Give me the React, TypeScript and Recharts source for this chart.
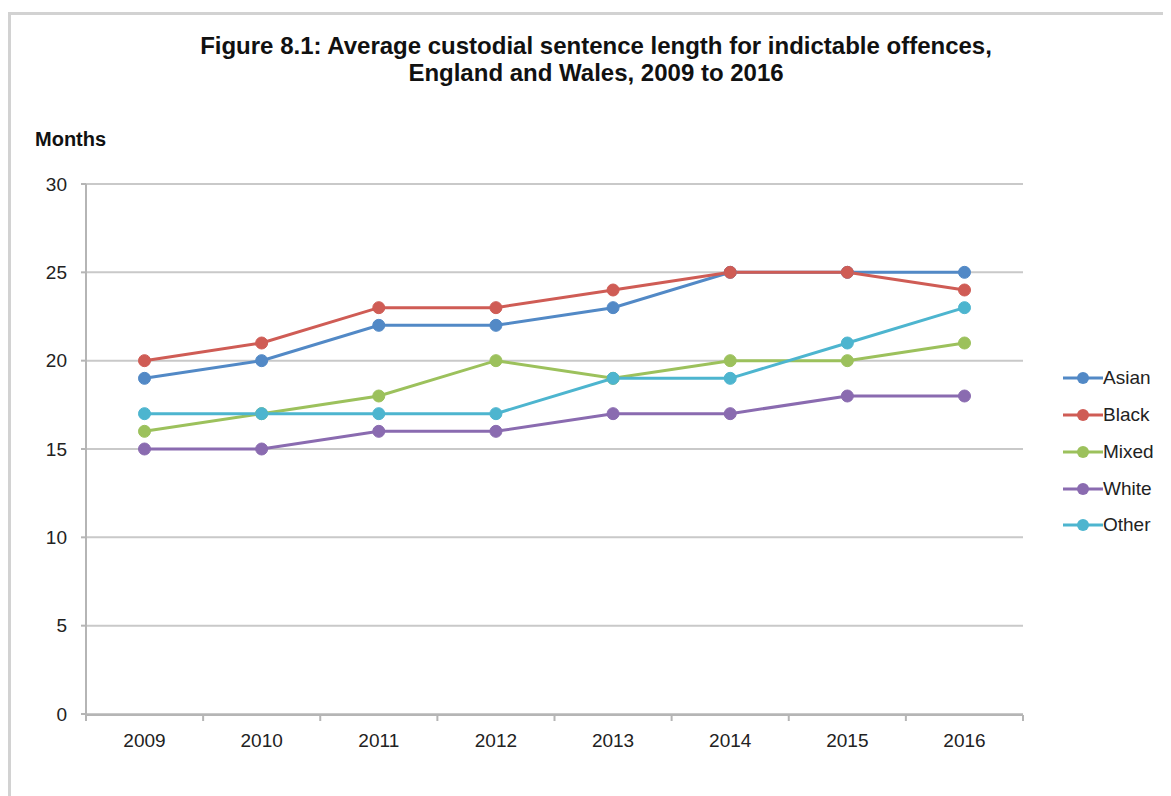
import { LineChart, Line, XAxis, YAxis, CartesianGrid } from 'recharts';

const years = ['2009', '2010', '2011', '2012', '2013', '2014', '2015', '2016'];
const asian = [19, 20, 22, 22, 23, 25, 25, 25];
const black = [20, 21, 23, 23, 24, 25, 25, 24];
const mixed = [16, 17, 18, 20, 19, 20, 20, 21];
const white = [15, 15, 16, 16, 17, 17, 18, 18];
const other = [17, 17, 17, 17, 19, 19, 21, 23];
const yTicks = [0, 5, 10, 15, 20, 25, 30];

// tick marks between categories, like the original spreadsheet axis
const yearNums = years.map(Number);
const boundaryTicks = [...yearNums.map((y) => y - 0.5), yearNums[yearNums.length - 1] + 0.5];

const series = [
  { key: 'Asian', values: asian, color: '#5289c6' },
  { key: 'Black', values: black, color: '#cf5c55' },
  { key: 'Mixed', values: mixed, color: '#9cc15c' },
  { key: 'White', values: white, color: '#8a6bb0' },
  { key: 'Other', values: other, color: '#4db5cf' },
];

const data = years.map((year, i) => {
  const row: Record<string, string | number> = { year, yearNum: yearNums[i] };
  series.forEach((s) => {
    row[s.key] = s.values[i];
  });
  return row;
});

const font = '"Liberation Sans", Arial, sans-serif';
const axisGray = '#b5b5b5';

export default function App() {
  return (
    <div
      style={{
        position: 'relative',
        top: 4,
        width: 1200,
        height: 800,
        borderTop: '3px solid #d2d2d2',
        borderLeft: '3px solid #d2d2d2',
        fontFamily: font,
        background: '#fff',
      }}
    >
      <div
        style={{
          position: 'absolute',
          left: 0,
          width: 1170,
          top: 17,
          textAlign: 'center',
          fontWeight: 'bold',
          fontSize: 24,
          lineHeight: '27px',
          color: '#111',
        }}
      >
        Figure 8.1: Average custodial sentence length for indictable offences,
        <br />
        England and Wales, 2009 to 2016
      </div>
      <div
        style={{
          position: 'absolute',
          left: 24,
          top: 113,
          fontWeight: 'bold',
          fontSize: 20,
          color: '#111',
        }}
      >
        Months
      </div>

      <LineChart
        width={1160}
        height={780}
        data={data}
        margin={{ top: 169, right: 148, bottom: 50, left: 35 }}
      >
        <CartesianGrid vertical={false} stroke="#c9c9c9" strokeWidth={2} />
        <XAxis
          xAxisId="grid"
          dataKey="yearNum"
          type="number"
          domain={[boundaryTicks[0], boundaryTicks[boundaryTicks.length - 1]]}
          ticks={boundaryTicks}
          allowDataOverflow
          height={30}
          tick={() => <g />}
          tickSize={6}
          stroke={axisGray}
          strokeWidth={2}
        />
        <XAxis
          xAxisId="cat"
          dataKey="year"
          height={1}
          axisLine={false}
          tickLine={false}
          padding={{ left: 58.5, right: 58.5 }}
          tick={{ fill: '#222', fontSize: 19, fontFamily: font }}
          tickMargin={14}
        />
        <YAxis
          width={40}
          domain={[0, 30]}
          ticks={yTicks}
          interval={0}
          stroke={axisGray}
          strokeWidth={2}
          tickSize={5}
          tickMargin={14}
          tick={{ fill: '#222', fontSize: 19, fontFamily: font }}
        />
        {series.map((s) => (
          <Line
            key={s.key}
            xAxisId="cat"
            dataKey={s.key}
            stroke={s.color}
            strokeWidth={3}
            dot={{ r: 6, fill: s.color, stroke: s.color, strokeWidth: 1 }}
            activeDot={false}
            isAnimationActive={false}
          />
        ))}
      </LineChart>

      <div style={{ position: 'absolute', left: 1052, top: 345 }}>
        {series.map((s) => (
          <div
            key={s.key}
            style={{ display: 'flex', alignItems: 'center', height: 36.75 }}
          >
            <svg width={40} height={14}>
              <line x1={0} y1={7} x2={40} y2={7} stroke={s.color} strokeWidth={3} />
              <circle cx={20} cy={7} r={6} fill={s.color} />
            </svg>
            <span style={{ fontSize: 19, color: '#222' }}>{s.key}</span>
          </div>
        ))}
      </div>
    </div>
  );
}
